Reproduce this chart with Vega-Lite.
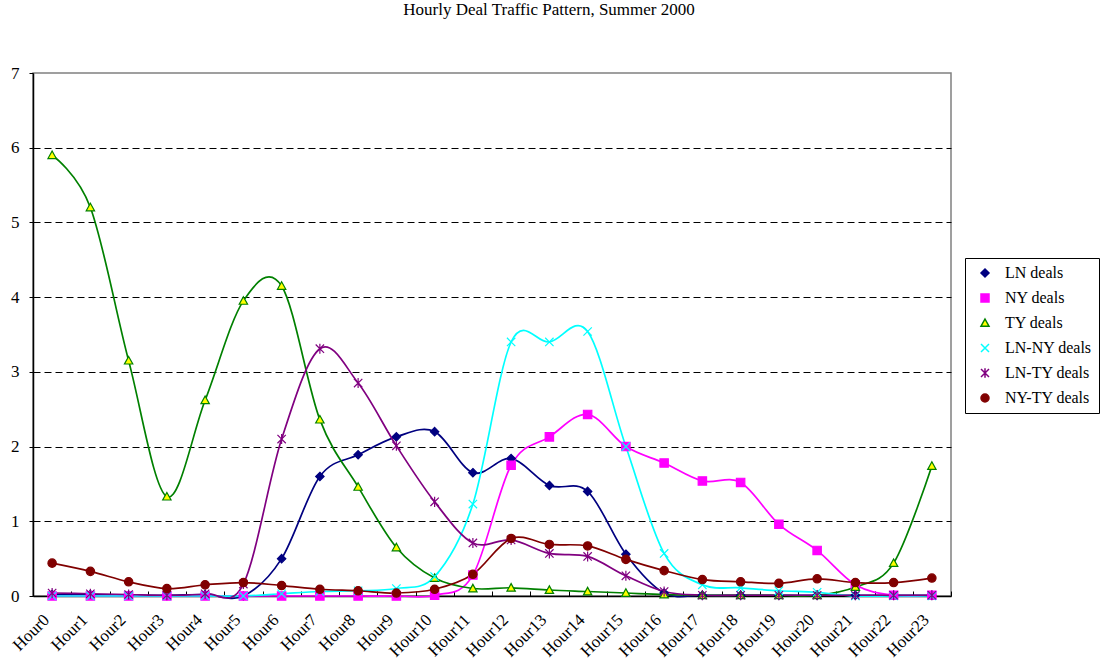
{
  "$schema": "https://vega.github.io/schema/vega-lite/v6.json",
  "width": 918,
  "height": 523,
  "autosize": {"type": "none"},
  "padding": {"left": 33, "top": 73, "right": 158, "bottom": 67},
  "background": "white",
  "title": {
    "text": "Hourly Deal Traffic Pattern, Summer 2000",
    "font": "Liberation Serif",
    "fontSize": 17,
    "fontWeight": "normal",
    "color": "black",
    "anchor": "middle",
    "dx": 57,
    "offset": 45
  },
  "config": {
    "view": {"stroke": "#808080", "strokeWidth": 1.5},
    "font": "Liberation Serif",
    "legend": {
      "orient": "none",
      "legendX": 932,
      "legendY": 185,
      "title": null,
      "strokeColor": "black",
      "fillColor": "white",
      "padding": 7,
      "labelFont": "Liberation Serif",
      "labelFontSize": 16,
      "labelColor": "black",
      "symbolSize": 64,
      "symbolStrokeWidth": 1.5,
      "symbolOffset": 5,
      "labelOffset": 12,
      "rowPadding": 9
    }
  },
  "data": {
    "values": [
      {"hour":"Hour0","series":"LN deals","value":0.02},{"hour":"Hour1","series":"LN deals","value":0.02},{"hour":"Hour2","series":"LN deals","value":0.01},{"hour":"Hour3","series":"LN deals","value":0.01},{"hour":"Hour4","series":"LN deals","value":0.02},{"hour":"Hour5","series":"LN deals","value":0.0},{"hour":"Hour6","series":"LN deals","value":0.5},{"hour":"Hour7","series":"LN deals","value":1.6},{"hour":"Hour8","series":"LN deals","value":1.89},{"hour":"Hour9","series":"LN deals","value":2.13},{"hour":"Hour10","series":"LN deals","value":2.2},{"hour":"Hour11","series":"LN deals","value":1.65},{"hour":"Hour12","series":"LN deals","value":1.84},{"hour":"Hour13","series":"LN deals","value":1.48},{"hour":"Hour14","series":"LN deals","value":1.4},{"hour":"Hour15","series":"LN deals","value":0.56},{"hour":"Hour16","series":"LN deals","value":0.04},{"hour":"Hour17","series":"LN deals","value":0.01},{"hour":"Hour18","series":"LN deals","value":0.01},{"hour":"Hour19","series":"LN deals","value":0.01},{"hour":"Hour20","series":"LN deals","value":0.01},{"hour":"Hour21","series":"LN deals","value":0.01},{"hour":"Hour22","series":"LN deals","value":0.01},{"hour":"Hour23","series":"LN deals","value":0.01},
      {"hour":"Hour0","series":"NY deals","value":0.0},{"hour":"Hour1","series":"NY deals","value":0.0},{"hour":"Hour2","series":"NY deals","value":0.0},{"hour":"Hour3","series":"NY deals","value":0.0},{"hour":"Hour4","series":"NY deals","value":0.0},{"hour":"Hour5","series":"NY deals","value":0.0},{"hour":"Hour6","series":"NY deals","value":0.0},{"hour":"Hour7","series":"NY deals","value":0.0},{"hour":"Hour8","series":"NY deals","value":0.0},{"hour":"Hour9","series":"NY deals","value":0.0},{"hour":"Hour10","series":"NY deals","value":0.01},{"hour":"Hour11","series":"NY deals","value":0.28},{"hour":"Hour12","series":"NY deals","value":1.75},{"hour":"Hour13","series":"NY deals","value":2.13},{"hour":"Hour14","series":"NY deals","value":2.43},{"hour":"Hour15","series":"NY deals","value":2.0},{"hour":"Hour16","series":"NY deals","value":1.78},{"hour":"Hour17","series":"NY deals","value":1.54},{"hour":"Hour18","series":"NY deals","value":1.52},{"hour":"Hour19","series":"NY deals","value":0.96},{"hour":"Hour20","series":"NY deals","value":0.61},{"hour":"Hour21","series":"NY deals","value":0.15},{"hour":"Hour22","series":"NY deals","value":0.01},{"hour":"Hour23","series":"NY deals","value":0.01},
      {"hour":"Hour0","series":"TY deals","value":5.9},{"hour":"Hour1","series":"TY deals","value":5.2},{"hour":"Hour2","series":"TY deals","value":3.15},{"hour":"Hour3","series":"TY deals","value":1.33},{"hour":"Hour4","series":"TY deals","value":2.62},{"hour":"Hour5","series":"TY deals","value":3.95},{"hour":"Hour6","series":"TY deals","value":4.15},{"hour":"Hour7","series":"TY deals","value":2.36},{"hour":"Hour8","series":"TY deals","value":1.46},{"hour":"Hour9","series":"TY deals","value":0.65},{"hour":"Hour10","series":"TY deals","value":0.24},{"hour":"Hour11","series":"TY deals","value":0.1},{"hour":"Hour12","series":"TY deals","value":0.11},{"hour":"Hour13","series":"TY deals","value":0.08},{"hour":"Hour14","series":"TY deals","value":0.06},{"hour":"Hour15","series":"TY deals","value":0.04},{"hour":"Hour16","series":"TY deals","value":0.02},{"hour":"Hour17","series":"TY deals","value":0.01},{"hour":"Hour18","series":"TY deals","value":0.01},{"hour":"Hour19","series":"TY deals","value":0.01},{"hour":"Hour20","series":"TY deals","value":0.01},{"hour":"Hour21","series":"TY deals","value":0.12},{"hour":"Hour22","series":"TY deals","value":0.44},{"hour":"Hour23","series":"TY deals","value":1.74},
      {"hour":"Hour0","series":"LN-NY deals","value":0.0},{"hour":"Hour1","series":"LN-NY deals","value":0.0},{"hour":"Hour2","series":"LN-NY deals","value":0.0},{"hour":"Hour3","series":"LN-NY deals","value":0.0},{"hour":"Hour4","series":"LN-NY deals","value":0.0},{"hour":"Hour5","series":"LN-NY deals","value":0.0},{"hour":"Hour6","series":"LN-NY deals","value":0.03},{"hour":"Hour7","series":"LN-NY deals","value":0.06},{"hour":"Hour8","series":"LN-NY deals","value":0.07},{"hour":"Hour9","series":"LN-NY deals","value":0.1},{"hour":"Hour10","series":"LN-NY deals","value":0.26},{"hour":"Hour11","series":"LN-NY deals","value":1.23},{"hour":"Hour12","series":"LN-NY deals","value":3.4},{"hour":"Hour13","series":"LN-NY deals","value":3.4},{"hour":"Hour14","series":"LN-NY deals","value":3.54},{"hour":"Hour15","series":"LN-NY deals","value":2.0},{"hour":"Hour16","series":"LN-NY deals","value":0.57},{"hour":"Hour17","series":"LN-NY deals","value":0.15},{"hour":"Hour18","series":"LN-NY deals","value":0.11},{"hour":"Hour19","series":"LN-NY deals","value":0.07},{"hour":"Hour20","series":"LN-NY deals","value":0.05},{"hour":"Hour21","series":"LN-NY deals","value":0.0},{"hour":"Hour22","series":"LN-NY deals","value":0.0},{"hour":"Hour23","series":"LN-NY deals","value":0.0},
      {"hour":"Hour0","series":"LN-TY deals","value":0.04},{"hour":"Hour1","series":"LN-TY deals","value":0.03},{"hour":"Hour2","series":"LN-TY deals","value":0.02},{"hour":"Hour3","series":"LN-TY deals","value":0.01},{"hour":"Hour4","series":"LN-TY deals","value":0.03},{"hour":"Hour5","series":"LN-TY deals","value":0.16},{"hour":"Hour6","series":"LN-TY deals","value":2.1},{"hour":"Hour7","series":"LN-TY deals","value":3.31},{"hour":"Hour8","series":"LN-TY deals","value":2.85},{"hour":"Hour9","series":"LN-TY deals","value":2.01},{"hour":"Hour10","series":"LN-TY deals","value":1.26},{"hour":"Hour11","series":"LN-TY deals","value":0.71},{"hour":"Hour12","series":"LN-TY deals","value":0.75},{"hour":"Hour13","series":"LN-TY deals","value":0.57},{"hour":"Hour14","series":"LN-TY deals","value":0.53},{"hour":"Hour15","series":"LN-TY deals","value":0.27},{"hour":"Hour16","series":"LN-TY deals","value":0.06},{"hour":"Hour17","series":"LN-TY deals","value":0.01},{"hour":"Hour18","series":"LN-TY deals","value":0.01},{"hour":"Hour19","series":"LN-TY deals","value":0.01},{"hour":"Hour20","series":"LN-TY deals","value":0.01},{"hour":"Hour21","series":"LN-TY deals","value":0.01},{"hour":"Hour22","series":"LN-TY deals","value":0.01},{"hour":"Hour23","series":"LN-TY deals","value":0.01},
      {"hour":"Hour0","series":"NY-TY deals","value":0.44},{"hour":"Hour1","series":"NY-TY deals","value":0.33},{"hour":"Hour2","series":"NY-TY deals","value":0.19},{"hour":"Hour3","series":"NY-TY deals","value":0.1},{"hour":"Hour4","series":"NY-TY deals","value":0.15},{"hour":"Hour5","series":"NY-TY deals","value":0.18},{"hour":"Hour6","series":"NY-TY deals","value":0.14},{"hour":"Hour7","series":"NY-TY deals","value":0.09},{"hour":"Hour8","series":"NY-TY deals","value":0.07},{"hour":"Hour9","series":"NY-TY deals","value":0.04},{"hour":"Hour10","series":"NY-TY deals","value":0.09},{"hour":"Hour11","series":"NY-TY deals","value":0.29},{"hour":"Hour12","series":"NY-TY deals","value":0.77},{"hour":"Hour13","series":"NY-TY deals","value":0.69},{"hour":"Hour14","series":"NY-TY deals","value":0.67},{"hour":"Hour15","series":"NY-TY deals","value":0.49},{"hour":"Hour16","series":"NY-TY deals","value":0.34},{"hour":"Hour17","series":"NY-TY deals","value":0.22},{"hour":"Hour18","series":"NY-TY deals","value":0.19},{"hour":"Hour19","series":"NY-TY deals","value":0.17},{"hour":"Hour20","series":"NY-TY deals","value":0.23},{"hour":"Hour21","series":"NY-TY deals","value":0.18},{"hour":"Hour22","series":"NY-TY deals","value":0.18},{"hour":"Hour23","series":"NY-TY deals","value":0.24}
    ]
  },
  "encoding": {
    "x": {
      "field": "hour",
      "type": "nominal",
      "sort": null,
      "scale": {"paddingInner": 0, "paddingOuter": 0},
      "axis": {
        "title": null,
        "labelAngle": -45,
        "labelAlign": "right",
        "labelBaseline": "middle",
        "labelOffset": -6,
        "labelFont": "Liberation Serif",
        "labelFontSize": 17,
        "labelColor": "black",
        "labelPadding": 26,
        "domainColor": "black",
        "domainWidth": 1.5,
        "tickColor": "black",
        "tickBand": "extent",
        "tickSize": -5,
        "grid": false
      }
    },
    "y": {
      "field": "value",
      "type": "quantitative",
      "scale": {"domain": [0, 7], "nice": false},
      "axis": {
        "title": null,
        "values": [0, 1, 2, 3, 4, 5, 6, 7],
        "labelFont": "Liberation Serif",
        "labelFontSize": 17,
        "labelColor": "black",
        "labelPadding": 10,
        "domainColor": "black",
        "domainWidth": 1.5,
        "tickColor": "black",
        "tickSize": 4,
        "grid": true,
        "gridColor": "black",
        "gridDash": [7, 4],
        "gridWidth": 1,
        "gridOpacity": {"condition": {"test": "datum.value == 0 || datum.value == 7", "value": 0}, "value": 1}
      }
    }
  },
  "layer": [
    {
      "mark": {"type": "line", "interpolate": "cardinal", "strokeWidth": 1.7},
      "encoding": {
        "stroke": {
          "field": "series",
          "type": "nominal",
          "sort": ["LN deals", "NY deals", "TY deals", "LN-NY deals", "LN-TY deals", "NY-TY deals"],
          "scale": {
            "domain": ["LN deals", "NY deals", "TY deals", "LN-NY deals", "LN-TY deals", "NY-TY deals"],
            "range": ["#000080", "#FF00FF", "#008000", "#00FFFF", "#800080", "#800000"]
          }
        }
      }
    },
    {
      "mark": {"type": "point", "filled": false, "size": 70, "strokeWidth": 1.2, "opacity": 1},
      "encoding": {
        "shape": {
          "field": "series",
          "type": "nominal",
          "scale": {
            "domain": ["LN deals", "NY deals", "TY deals", "LN-NY deals", "LN-TY deals", "NY-TY deals"],
            "range": [
              "M0,-1L1,0L0,1L-1,0Z",
              "M-1,-1H1V1H-1Z",
              "M0,-1L1,0.8H-1Z",
              "M-1,-1L1,1M-1,1L1,-1",
              "M-1,-1L1,1M-1,1L1,-1M0,-1.2V1.2",
              "M-1,0A1,1,0,1,1,1,0A1,1,0,1,1,-1,0Z"
            ]
          }
        },
        "fill": {
          "field": "series",
          "type": "nominal",
          "scale": {
            "domain": ["LN deals", "NY deals", "TY deals", "LN-NY deals", "LN-TY deals", "NY-TY deals"],
            "range": ["#000080", "#FF00FF", "#FFFF00", "#00FFFF", "#800080", "#800000"]
          }
        },
        "stroke": {
          "field": "series",
          "type": "nominal"
        }
      }
    }
  ]
}
